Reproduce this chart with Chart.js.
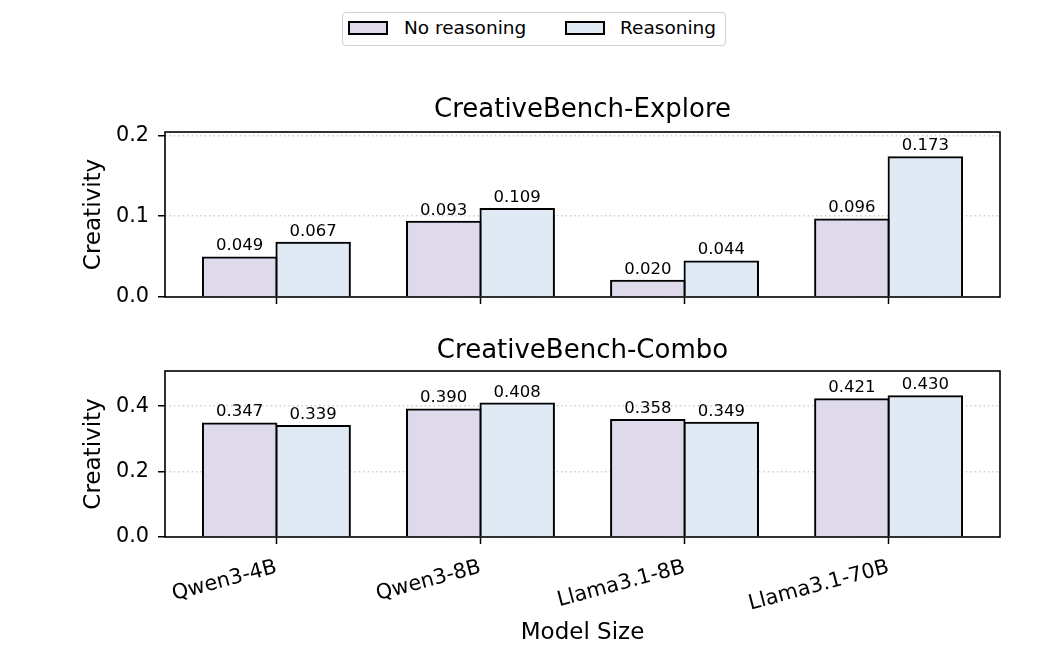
<!DOCTYPE html>
<html>
<head>
<meta charset="utf-8">
<script src="https://cdn.jsdelivr.net/npm/chart.js@4.4.0/dist/chart.umd.min.js"></script>
<style>
  body { margin: 0; background: #fff; font-family: 'DejaVu Sans', sans-serif; }
  #wrap { position: relative; width: 1042px; height: 652px; overflow: hidden; }
  canvas { position: absolute; left: 0; }
  #chartExplore { top: 60px; }
  #chartCombo { top: 330px; }
  .legend { position: absolute; left: 342px; top: 12px; width: 384px; height: 34px;
            border: 1.5px solid #d0d0d0; border-radius: 4px; box-sizing: border-box; }
  .swatch { position: absolute; top: 8px; width: 40px; height: 14px; border: 2px solid #000; box-sizing: border-box; }
  .legend span { position: absolute; top: 4px; font-size: 18.5px; line-height: 22px; color: #000; }
</style>
</head>
<body>
<div id="wrap">
  <div class="legend" id="legend"></div>
  <canvas id="chartExplore" width="1042" height="270"></canvas>
  <canvas id="chartCombo" width="1042" height="322"></canvas>
</div>
<script>
// --- Data ---
const MODELS = ['Qwen3-4B', 'Qwen3-8B', 'Llama3.1-8B', 'Llama3.1-70B'];
const SERIES = ['No reasoning', 'Reasoning'];
const EXPLORE_NO = [0.049, 0.093, 0.020, 0.096];
const EXPLORE_YES = [0.067, 0.109, 0.044, 0.173];
const COMBO_NO = [0.347, 0.390, 0.358, 0.421];
const COMBO_YES = [0.339, 0.408, 0.349, 0.430];
const EXPLORE_TICKS = [0.0, 0.1, 0.2];
const COMBO_TICKS = [0.0, 0.2, 0.4];
const FILLS = ['#dedaeb', '#dfeaf4'];

Chart.defaults.font.family = "'DejaVu Sans', sans-serif";
Chart.defaults.color = '#000';

// --- Legend (HTML) ---
const legend = document.getElementById('legend');
const legendPos = [[5, 61], [222, 277]];
SERIES.forEach((name, i) => {
  const sw = document.createElement('div');
  sw.className = 'swatch';
  sw.style.left = legendPos[i][0] + 'px';
  sw.style.background = FILLS[i];
  legend.appendChild(sw);
  const txt = document.createElement('span');
  txt.style.left = legendPos[i][1] + 'px';
  txt.textContent = name;
  legend.appendChild(txt);
});

// --- Plugins ---
const framePlugin = {
  id: 'frame',
  afterDatasetsDraw(chart) {
    const { ctx, chartArea: a } = chart;
    ctx.save();
    ctx.strokeStyle = '#000';
    ctx.lineWidth = 1.6;
    ctx.strokeRect(a.left, a.top, a.right - a.left, a.bottom - a.top);
    ctx.restore();
  },
};

const valueLabels = {
  id: 'valueLabels',
  afterDatasetsDraw(chart) {
    const ctx = chart.ctx;
    ctx.save();
    ctx.font = "16.5px 'DejaVu Sans'";
    ctx.textAlign = 'center';
    ctx.textBaseline = 'alphabetic';
    ctx.fillStyle = '#000';
    chart.data.datasets.forEach((ds, i) => {
      chart.getDatasetMeta(i).data.forEach((bar, j) => {
        ctx.fillText(ds.data[j].y.toFixed(3), bar.x, bar.y - 7);
      });
    });
    ctx.restore();
  },
};

// --- Chart builder ---
function makeChart(id, title, noVals, yesVals, yTicks, cfg) {
  const yMax = Math.max(...noVals, ...yesVals) * 1.18;
  return new Chart(document.getElementById(id), {
    type: 'bar',
    data: {
      datasets: [
        { label: SERIES[0], data: noVals.map((v, i) => ({ x: i, y: v })),
          backgroundColor: FILLS[0], borderColor: '#000', borderWidth: 2, inflateAmount: 1 },
        { label: SERIES[1], data: yesVals.map((v, i) => ({ x: i, y: v })),
          backgroundColor: FILLS[1], borderColor: '#000', borderWidth: 2, inflateAmount: 1 },
      ],
    },
    options: {
      responsive: false,
      animation: false,
      layout: { padding: { left: 0, right: 42, top: 0, bottom: 0 } },
      datasets: { bar: { categoryPercentage: 0.72, barPercentage: 1 } },
      plugins: {
        legend: { display: false },
        tooltip: { enabled: false },
        title: {
          display: true, text: title, fullSize: false, color: '#000',
          font: { size: 26, weight: 'normal' },
          padding: cfg.titlePad,
        },
      },
      scales: {
        x: {
          type: 'linear',
          offset: false,
          min: -0.546,
          max: MODELS.length - 0.454,
          afterBuildTicks: (s) => { s.ticks = MODELS.map((m, i) => ({ value: i })); },
          afterFit: (s) => { s.height = cfg.xHeight; },
          ticks: {
            display: cfg.showLabels,
            callback: (v) => MODELS[v],
            minRotation: 15, maxRotation: 15,
            font: { size: 20.8 }, color: '#000', padding: 11,
          },
          grid: { offset: false, drawOnChartArea: false, drawTicks: true,
                  tickLength: 7, tickColor: '#000', tickWidth: 1.5 },
          border: { display: false },
          title: { display: cfg.showLabels, text: 'Model Size', color: '#000',
                   font: { size: 23 }, padding: { top: 0, bottom: 5 } },
        },
        y: {
          min: 0,
          max: yMax,
          afterBuildTicks: (s) => { s.ticks = yTicks.map((v) => ({ value: v })); },
          afterFit: (s) => { s.width = 165; },
          ticks: { callback: (v) => v.toFixed(1), font: { size: 20.8 }, color: '#000', padding: 9 },
          grid: { color: 'rgba(176,176,176,0.6)', lineWidth: 1.5,
                  tickColor: '#000', tickLength: 7, tickWidth: 1.5 },
          border: { display: false, dash: [1.6, 2.8] },
          title: { display: true, text: 'Creativity', color: '#000',
                   font: { size: 23 }, padding: { top: 80, bottom: 0 } },
        },
      },
    },
    plugins: [framePlugin, valueLabels],
  });
}

makeChart('chartExplore', 'CreativeBench-Explore', EXPLORE_NO, EXPLORE_YES, EXPLORE_TICKS,
  { titlePad: { top: 34.4, bottom: 6.4 }, xHeight: 33, showLabels: false });
makeChart('chartCombo', 'CreativeBench-Combo', COMBO_NO, COMBO_YES, COMBO_TICKS,
  { titlePad: { top: 5.4, bottom: 4.4 }, xHeight: 115, showLabels: true });
</script>
</body>
</html>
